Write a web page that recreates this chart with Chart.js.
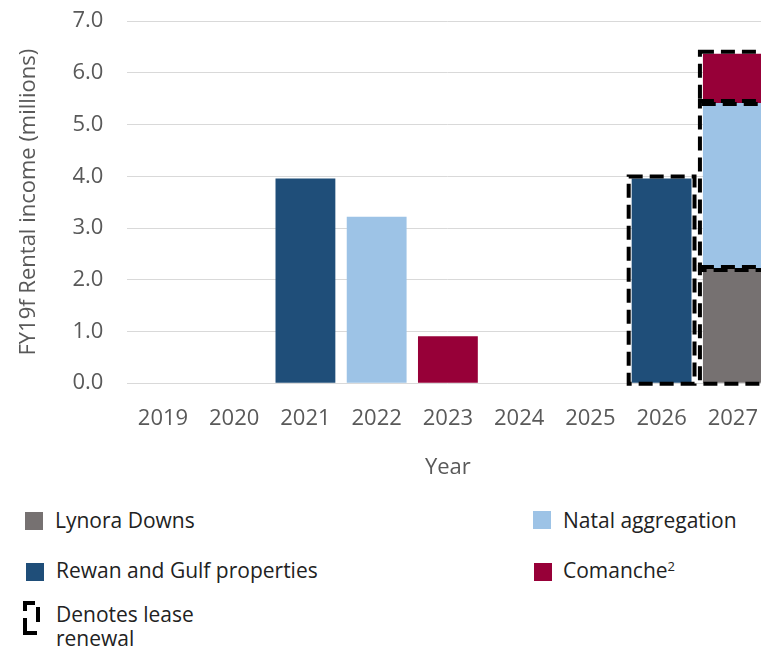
<!DOCTYPE html>
<html>
<head>
<meta charset="utf-8">
<script src="https://cdn.jsdelivr.net/npm/chart.js@4"></script>
<style>
  body { margin: 0; width: 761px; height: 648px; overflow: hidden; background: #fff; font-family: "Open Sans", sans-serif; }
  #wrap { position: absolute; left: 0; top: -16px; width: 772px; height: 507px; }
  .item { position: absolute; font-size: 21px; color: #222; line-height: 24px; white-space: nowrap; }
  .sw { position: absolute; width: 18px; height: 18px; }
  sup { font-size: 13px; vertical-align: 7px; line-height: 0; }
</style>
</head>
<body>
<div id="wrap"><canvas id="chart"></canvas></div>

<div class="sw" style="left:25px;top:512px;background:#767171"></div>
<div class="item" style="left:55px;top:508px">Lynora Downs</div>
<div class="sw" style="left:533px;top:511px;background:#9DC3E6"></div>
<div class="item" style="left:563px;top:508px">Natal aggregation</div>
<div class="sw" style="left:26px;top:563px;background:#1F4E79"></div>
<div class="item" style="left:56px;top:558px">Rewan and Gulf properties</div>
<div class="sw" style="left:534px;top:563px;background:#970038"></div>
<div class="item" style="left:563px;top:558px">Comanche<sup>2</sup></div>
<svg style="position:absolute;left:20px;top:598px" width="26" height="40">
  <polyline points="5,13 5,5 15,5" fill="none" stroke="#000" stroke-width="4"/>
  <polyline points="5,20 5,35 17,35" fill="none" stroke="#000" stroke-width="4"/>
  <line x1="18" y1="9" x2="18" y2="24" stroke="#000" stroke-width="4"/>
</svg>
<div class="item" style="left:56px;top:602px">Denotes lease<br>renewal</div>

<script>
const years = ["2019", "2020", "2021", "2022", "2023", "2024", "2025", "2026", "2027"];
const lynoraDowns = [null, null, null, null, null, null, null, null, 2.21];
const rewanGulf = [null, null, 3.96, null, null, null, null, 3.96, null];
const natalAggregation = [null, null, null, 3.22, null, null, null, null, 3.21];
const comanche = [null, null, null, null, 0.91, null, null, null, 0.95];
const renewalYears = ["2026", "2027"];

const tickColor = '#595959';
const font = { family: 'Open Sans', size: 22 };

// dashed outline round the bars of renewal years
const renewalBoxes = {
  id: 'renewalBoxes',
  afterDatasetsDraw(chart) {
    const ctx = chart.ctx;
    ctx.save();
    ctx.strokeStyle = '#000';
    ctx.lineWidth = 4;
    ctx.setLineDash([14, 7]);
    chart.data.datasets.forEach((ds, di) => {
      const meta = chart.getDatasetMeta(di);
      renewalYears.forEach(y => {
        const i = years.indexOf(y);
        if (ds.data[i] == null) return;
        const bar = meta.data[i];
        const left = bar.x - bar.width / 2 - 3;
        const top = Math.min(bar.y, bar.base) - 2;
        const h = Math.abs(bar.base - bar.y) + 3;
        ctx.strokeRect(left, top, bar.width + 6, h);
      });
    });
    ctx.restore();
  }
};

new Chart(document.getElementById('chart'), {
  type: 'bar',
  data: {
    labels: years,
    datasets: [
      { label: 'Lynora Downs', data: lynoraDowns, backgroundColor: '#767171' },
      { label: 'Rewan and Gulf properties', data: rewanGulf, backgroundColor: '#1F4E79' },
      { label: 'Natal aggregation', data: natalAggregation, backgroundColor: '#9DC3E6' },
      { label: 'Comanche', data: comanche, backgroundColor: '#970038' }
    ]
  },
  options: {
    responsive: true,
    maintainAspectRatio: false,
    animation: false,
    datasets: { bar: { categoryPercentage: 1, barPercentage: 0.84 } },
    layout: { padding: { top: 8, left: 12, right: 0, bottom: 6 } },
    plugins: { legend: { display: false }, tooltip: { enabled: false } },
    scales: {
      x: {
        stacked: true,
        grid: { display: false },
        border: { display: false },
        ticks: { color: tickColor, font: font, padding: 14, maxRotation: 0 },
        title: { display: true, text: 'Year', color: tickColor, font: font, padding: { top: 9 } }
      },
      y: {
        stacked: true,
        min: 0,
        max: 7,
        ticks: { stepSize: 1, color: tickColor, font: font, padding: 24, callback: v => v.toFixed(1) },
        grid: { color: '#d9d9d9', drawTicks: false },
        border: { display: false },
        title: { display: true, text: 'FY19f Rental income (millions)', color: tickColor, font: font, padding: { bottom: 6 } }
      }
    }
  },
  plugins: [renewalBoxes]
});
</script>
</body>
</html>
